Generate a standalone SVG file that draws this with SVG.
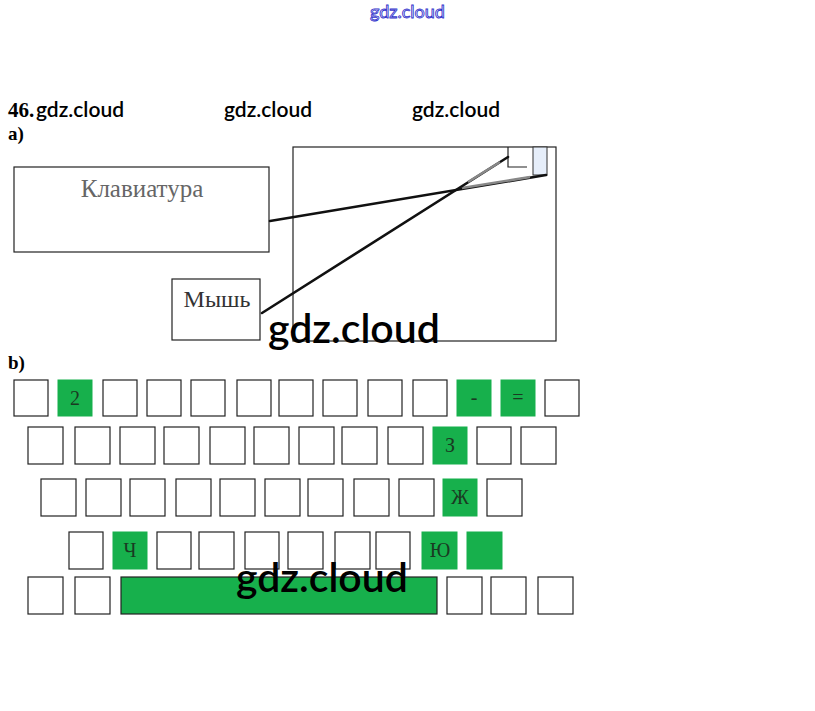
<svg xmlns="http://www.w3.org/2000/svg" width="815" height="711" viewBox="0 0 815 711">
<style>
.serif{font-family:"Liberation Serif","DejaVu Serif",serif}
.wm{font-family:Lato,"Open Sans",sans-serif;fill:#000;font-weight:600}
.box{fill:#fff;stroke:#222;stroke-width:1.2}
.k{fill:#fff;stroke:#222;stroke-width:1.2}
.g{fill:#17b04c;stroke:#17b04c;stroke-width:1}
.kl{font-family:"Liberation Serif","DejaVu Serif",serif;font-size:20px;fill:#1a3a22;text-anchor:middle}
.ln{stroke:#111;stroke-width:2.6;fill:none;stroke-linecap:round}
.lg{stroke:#888;stroke-width:2.6;fill:none}
</style>
<rect width="815" height="711" fill="#fff"/>
<text x="370" y="18" font-family="Lato,sans-serif" font-size="18" fill="#fff" stroke="#3333cc" stroke-width="0.9">gdz.cloud</text>
<text x="8" y="117" class="serif" font-size="21" font-weight="bold">46.</text>
<text x="36" y="117" class="wm" font-size="21">gdz.cloud</text>
<text x="224" y="117" class="wm" font-size="21">gdz.cloud</text>
<text x="412" y="117" class="wm" font-size="21">gdz.cloud</text>
<text x="8" y="140" class="serif" font-size="19" font-weight="bold">a)</text>
<g id="monitor">
<rect class="box" x="293" y="147" width="263" height="194"/>
<path d="M508 147 V167 H527" fill="none" stroke="#222" stroke-width="1.2"/>
<rect x="533" y="147" width="14" height="28" fill="#e6eefa" stroke="#333" stroke-width="1"/>
</g>
<g id="keyboard">
<rect class="box" x="14" y="167" width="255" height="85"/>
<text x="142" y="197" class="serif" font-size="25" fill="#666" text-anchor="middle">Клавиатура</text>
</g>
<g id="mouse">
<rect class="box" x="172" y="279" width="88" height="61"/>
<text x="217" y="307" class="serif" font-size="24" fill="#333" text-anchor="middle">Мышь</text>
</g>
<g id="connectors">
<path class="ln" d="M270 221 L546 175"/>
<path class="lg" d="M462 188 L530 177"/>
<path class="ln" d="M262 313 L508 157"/>
<path class="lg" d="M468 182 L500 162"/>
</g>
<text x="268" y="343" class="wm" font-size="41">gdz.cloud</text>
<text x="8" y="369" class="serif" font-size="19" font-weight="bold">b)</text>
<g id="row1">
<rect class="k" x="14" y="380" width="34" height="36"/>
<rect class="g" x="58" y="380" width="34" height="36"/><text class="kl" x="75" y="405">2</text>
<rect class="k" x="103" y="380" width="34" height="36"/>
<rect class="k" x="147" y="380" width="34" height="36"/>
<rect class="k" x="191" y="380" width="34" height="36"/>
<rect class="k" x="237" y="380" width="34" height="36"/>
<rect class="k" x="279" y="380" width="34" height="36"/>
<rect class="k" x="323" y="380" width="34" height="36"/>
<rect class="k" x="368" y="380" width="34" height="36"/>
<rect class="k" x="413" y="380" width="34" height="36"/>
<rect class="g" x="457" y="380" width="34" height="36"/><text class="kl" x="474" y="404">-</text>
<rect class="g" x="501" y="380" width="34" height="36"/><text class="kl" x="518" y="404">=</text>
<rect class="k" x="545" y="380" width="34" height="36"/>
</g>
<g id="row2">
<rect class="k" x="28" y="427" width="35" height="37"/>
<rect class="k" x="75" y="427" width="35" height="37"/>
<rect class="k" x="120" y="427" width="35" height="37"/>
<rect class="k" x="164" y="427" width="35" height="37"/>
<rect class="k" x="210" y="427" width="35" height="37"/>
<rect class="k" x="254" y="427" width="35" height="37"/>
<rect class="k" x="299" y="427" width="35" height="37"/>
<rect class="k" x="342" y="427" width="35" height="37"/>
<rect class="k" x="388" y="427" width="35" height="37"/>
<rect class="g" x="433" y="427" width="34" height="37"/><text class="kl" x="450" y="452">З</text>
<rect class="k" x="477" y="427" width="34" height="37"/>
<rect class="k" x="521" y="427" width="35" height="37"/>
</g>
<g id="row3">
<rect class="k" x="41" y="479" width="35" height="37"/>
<rect class="k" x="86" y="479" width="35" height="37"/>
<rect class="k" x="130" y="479" width="35" height="37"/>
<rect class="k" x="176" y="479" width="35" height="37"/>
<rect class="k" x="220" y="479" width="35" height="37"/>
<rect class="k" x="265" y="479" width="35" height="37"/>
<rect class="k" x="308" y="479" width="35" height="37"/>
<rect class="k" x="354" y="479" width="35" height="37"/>
<rect class="k" x="399" y="479" width="35" height="37"/>
<rect class="g" x="443" y="479" width="34" height="37"/><text class="kl" x="460" y="504">Ж</text>
<rect class="k" x="487" y="479" width="35" height="37"/>
</g>
<g id="row4">
<rect class="k" x="69" y="532" width="34" height="37"/>
<rect class="g" x="113" y="532" width="34" height="37"/><text class="kl" x="130" y="557" fill="#9fcfa8">Ч</text>
<rect class="k" x="157" y="532" width="34" height="37"/>
<rect class="k" x="199" y="532" width="35" height="37"/>
<rect class="k" x="245" y="532" width="34" height="37"/>
<rect class="k" x="288" y="532" width="35" height="37"/>
<rect class="k" x="335" y="532" width="35" height="37"/>
<rect class="k" x="376" y="532" width="34" height="37"/>
<rect class="g" x="422" y="532" width="35" height="37"/><text class="kl" x="440" y="557">Ю</text>
<rect class="g" x="467" y="532" width="35" height="37"/>
</g>
<g id="row5">
<rect class="k" x="28" y="577" width="35" height="37"/>
<rect class="k" x="75" y="577" width="35" height="37"/>
<rect x="121" y="577" width="316" height="37" fill="#17b04c" stroke="#222" stroke-width="1.2"/>
<rect class="k" x="447" y="577" width="35" height="37"/>
<rect class="k" x="491" y="577" width="35" height="37"/>
<rect class="k" x="538" y="577" width="35" height="37"/>
</g>
<text x="236" y="592" class="wm" font-size="41">gdz.cloud</text>
</svg>
